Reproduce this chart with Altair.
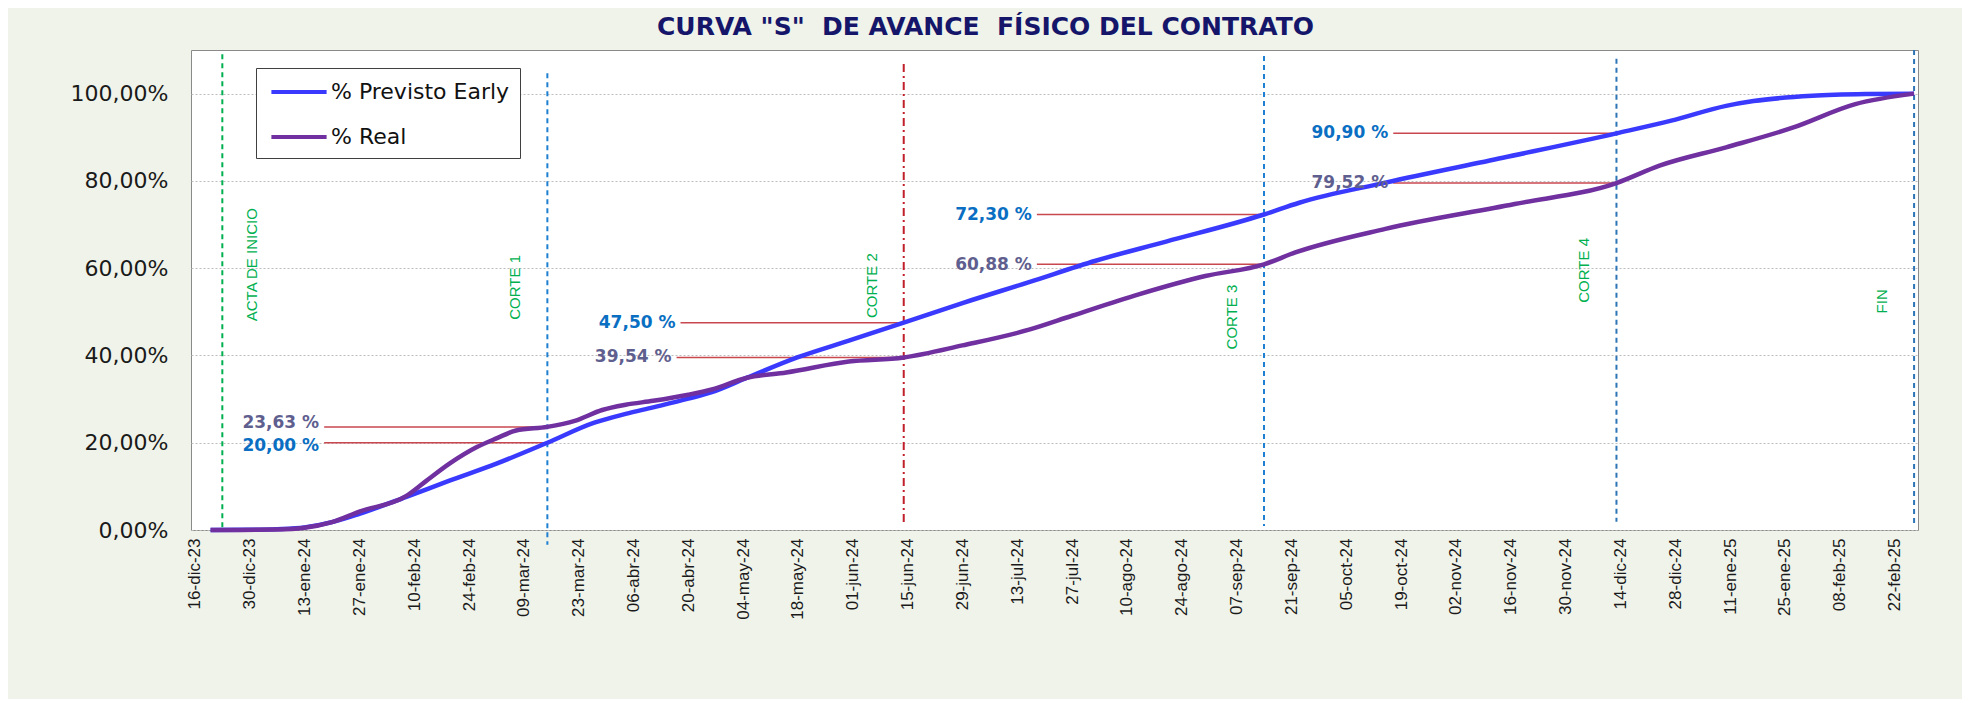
import altair as alt
import pandas as pd

# ---------------- data ----------------
MESES = ['ene', 'feb', 'mar', 'abr', 'may', 'jun', 'jul', 'ago', 'sep', 'oct', 'nov', 'dic']

tick_labels = ["16-dic-23", "30-dic-23", "13-ene-24", "27-ene-24", "10-feb-24", "24-feb-24",
               "09-mar-24", "23-mar-24", "06-abr-24", "20-abr-24", "04-may-24", "18-may-24",
               "01-jun-24", "15-jun-24", "29-jun-24", "13-jul-24", "27-jul-24", "10-ago-24",
               "24-ago-24", "07-sep-24", "21-sep-24", "05-oct-24", "19-oct-24", "02-nov-24",
               "16-nov-24", "30-nov-24", "14-dic-24", "28-dic-24", "11-ene-25", "25-ene-25",
               "08-feb-25", "22-feb-25"]

y_ticks = [0, 20, 40, 60, 80, 100]

series_names = ["% Previsto Early", "% Real"]

prev_dates = ["2023-12-20", "2023-12-30", "2024-01-06", "2024-01-13", "2024-01-20", "2024-01-27",
              "2024-02-08", "2024-02-19", "2024-03-02", "2024-03-15", "2024-03-27", "2024-04-04",
              "2024-04-11", "2024-04-20", "2024-04-26", "2024-05-05", "2024-05-18", "2024-05-31",
              "2024-06-14", "2024-06-29", "2024-07-16", "2024-08-02", "2024-08-20", "2024-09-14",
              "2024-09-23", "2024-10-15", "2024-11-14", "2024-12-13", "2024-12-27", "2025-01-10",
              "2025-01-17", "2025-02-01", "2025-02-15", "2025-02-27"]
prev_values = [0.0, 0.05, 0.2, 0.6, 1.8, 3.7, 7.6, 11.3, 15.2, 20.0, 24.6, 26.6,
               28.1, 30.1, 31.6, 34.9, 39.6, 43.4, 47.5, 52.0, 56.8, 61.7, 66.1, 72.3,
               75.0, 79.6, 85.3, 90.9, 93.8, 97.2, 98.3, 99.5, 99.9, 100.0]

real_dates = ["2023-12-20", "2024-01-06", "2024-01-13", "2024-01-20", "2024-01-27", "2024-02-08",
              "2024-02-13", "2024-02-19", "2024-02-26", "2024-03-02", "2024-03-07", "2024-03-15",
              "2024-03-22", "2024-03-29", "2024-04-04", "2024-04-11", "2024-04-20", "2024-04-26",
              "2024-05-05", "2024-05-15", "2024-05-31", "2024-06-14", "2024-06-29", "2024-07-16",
              "2024-07-27", "2024-08-13", "2024-08-30", "2024-09-14", "2024-09-22", "2024-10-15",
              "2024-11-17", "2024-12-13", "2024-12-24", "2025-01-10", "2025-01-27", "2025-02-12",
              "2025-02-27"]
real_values = [0.0, 0.1, 0.5, 1.8, 4.2, 7.8, 11.2, 15.2, 19.0, 21.0, 22.8, 23.63,
               25.0, 27.5, 28.7, 29.6, 31.0, 32.2, 34.9, 36.1, 38.6, 39.54, 42.3, 45.9,
               49.1, 54.0, 58.2, 60.88, 63.6, 69.0, 74.7, 79.52, 83.5, 87.7, 92.2, 97.6,
               100.0]

# cut-off markers
marker_names = ["ACTA DE INICIO", "CORTE 1", "CORTE 2", "CORTE 3", "CORTE 4", "FIN"]
marker_dates = ["2023-12-23", "2024-03-15", "2024-06-14", "2024-09-14", "2024-12-13", "2025-02-27"]

# highlighted values at each cut (leader line from -> to)
ann_values = [20.00, 23.63, 47.50, 39.54, 72.30, 60.88, 90.90, 79.52]
ann_series = ["prev", "real", "prev", "real", "prev", "real", "prev", "real"]
ann_start = ["2024-01-18", "2024-01-18", "2024-04-18", "2024-04-17",
             "2024-07-18", "2024-07-18", "2024-10-17", "2024-10-17"]
ann_end = ["2024-03-15", "2024-03-15", "2024-06-14", "2024-06-14",
           "2024-09-14", "2024-09-14", "2024-12-13", "2024-12-13"]

# ---------------- styles / layout ----------------
marker_colors = ["#00b050", "#1f7fd0", "#c0202a", "#1f7fd0", "#2e75b6", "#2e75b6"]
marker_kind = ["dash", "dash", "dashdot", "dash", "dash", "dash"]
marker_top = [109.0, 104.7, 106.8, 108.6, 108.0, 110.0]
marker_bottom = [0.5, -3.4, 1.6, 0.9, 1.9, 0.8]
marker_label_y = [60.8, 55.6, 56.0, 48.8, 59.5, 52.4]
ann_label_y = [19.3, 24.5, 47.5, 39.54, 72.3, 60.7, 90.9, 79.52]   # where each value label sits
series_colors = ["#3a3aff", "#7030a0"]
ann_colors = {"prev": "#0a6fc2", "real": "#5f5f8f"}

# ---------------- tables ----------------
curves = pd.DataFrame({
    "fecha": prev_dates + real_dates,
    "valor": prev_values + real_values,
    "serie": [series_names[0]] * len(prev_dates) + [series_names[1]] * len(real_dates),
})

markers = pd.DataFrame({
    "nombre": marker_names, "fecha": marker_dates, "col": marker_colors,
    "tipo": marker_kind, "top": marker_top, "bottom": marker_bottom, "ly": marker_label_y,
})

ann = pd.DataFrame({
    "valor": ann_values,
    "ly": ann_label_y,
    "texto": [f"{v:.2f}".replace(".", ",") + " %" for v in ann_values],
    "col": [ann_colors[s] for s in ann_series],
    "inicio": ann_start, "fin": ann_end,
})


def to_dt(label):
    d, m, y = label.split("-")
    return alt.DateTime(year=2000 + int(y), month=MESES.index(m) + 1, date=int(d), utc=True)


tick_values = [to_dt(t) for t in tick_labels]
meses_js = "[" + ",".join(f"'{m}'" for m in MESES) + "]"

x_scale = alt.Scale(type="utc", domain=[alt.DateTime(year=2023, month=12, date=15, utc=True),
                                        alt.DateTime(year=2025, month=2, date=28, utc=True)])
y_scale = alt.Scale(domain=[0, 110], nice=False, zero=False)

x_axis = alt.Axis(values=tick_values, title=None, labelAngle=270, labelAlign="right",
                  labelBaseline="middle", labelFont="Liberation Sans", labelFontSize=17,
                  labelColor="#1a1a1a", labelPadding=8, ticks=False, domain=False, grid=False,
                  labelOverlap=False, labelFlush=False,
                  labelExpr="utcFormat(datum.value, '%d') + '-' + " + meses_js +
                            "[utcmonth(datum.value)] + '-' + utcFormat(datum.value, '%y')")
y_axis = alt.Axis(values=y_ticks, title=None, labelFont="DejaVu Sans", labelFontSize=22,
                  labelColor="#1a1a1a", labelPadding=23, ticks=False, domain=False,
                  grid=True, gridColor="#bdbdbd", gridDash=[2, 2], gridWidth=1,
                  labelExpr="replace(format(datum.value, '.2f'), '.', ',') + '%'")

vrules = alt.Chart(markers).mark_rule(strokeWidth=2).encode(
    x=alt.X("fecha:T", scale=x_scale, axis=x_axis),
    y=alt.Y("top:Q", scale=y_scale, axis=y_axis),
    y2="bottom:Q",
    stroke=alt.Stroke("col:N", scale=None),
    strokeDash=alt.StrokeDash("tipo:N", scale=alt.Scale(domain=["dash", "dashdot"],
                                                        range=[[5, 4], [8, 4, 2, 4]]), legend=None),
)

leaders = alt.Chart(ann).mark_rule(stroke="#c9474f", strokeWidth=1.5).encode(
    x="inicio:T", x2="fin:T", y="valor:Q",
)

lines = alt.Chart(curves).mark_line(strokeWidth=4.5, interpolate="monotone").encode(
    x="fecha:T",
    y="valor:Q",
    color=alt.Color("serie:N", scale=alt.Scale(domain=series_names, range=series_colors),
                    legend=alt.Legend(title=None, orient="none", legendX=65, legendY=18,
                                      fillColor="white", strokeColor="#404040",
                                      padding=10, symbolType="M-2.3,0L2.3,0", symbolSize=576,
                                      symbolStrokeWidth=4, symbolOffset=19, labelOffset=18,
                                      labelFont="DejaVu Sans", labelFontSize=22, labelLimit=400,
                                      labelColor="#111111", rowPadding=20)),
    order=alt.Order("fecha:T"),
)

ann_labels = alt.Chart(ann).mark_text(align="right", baseline="middle", dx=-5,
                                      font="DejaVu Sans", fontWeight="bold", fontSize=17).encode(
    x="inicio:T", y="ly:Q", text="texto:N", fill=alt.Fill("col:N", scale=None),
)

acta_label = alt.Chart(markers[markers.nombre == "ACTA DE INICIO"]).mark_text(
    angle=270, align="center", baseline="middle", xOffset=30,
    font="Liberation Sans", fontSize=15, color="#00b050").encode(
    x="fecha:T", y="ly:Q", text="nombre:N")

corte_labels = alt.Chart(markers[markers.nombre != "ACTA DE INICIO"]).mark_text(
    angle=270, align="center", baseline="middle", xOffset=-32,
    font="Liberation Sans", fontSize=15, color="#00b050").encode(
    x="fecha:T", y="ly:Q", text="nombre:N")

chart = alt.layer(vrules, leaders, lines, ann_labels, acta_label, corte_labels).properties(
    width=1727, height=480,
    title=alt.TitleParams('CURVA "S"\u00a0 DE AVANCE\u00a0 FÍSICO DEL CONTRATO',
                          anchor="middle", frame="group", dx=-69, dy=24, offset=13,
                          baseline="alphabetic", font="DejaVu Sans", fontSize=25,
                          fontWeight="bold", color="#15166a"),
    autosize=alt.AutoSizeParams(type="none"),
    padding={"left": 183, "top": 42, "right": 44, "bottom": 169},
    background="#f0f3ea",
).configure_view(stroke="#8a8a8a", strokeWidth=1, fill="white")

chart.save("out.html", embed_options={"renderer": "svg", "actions": False})
